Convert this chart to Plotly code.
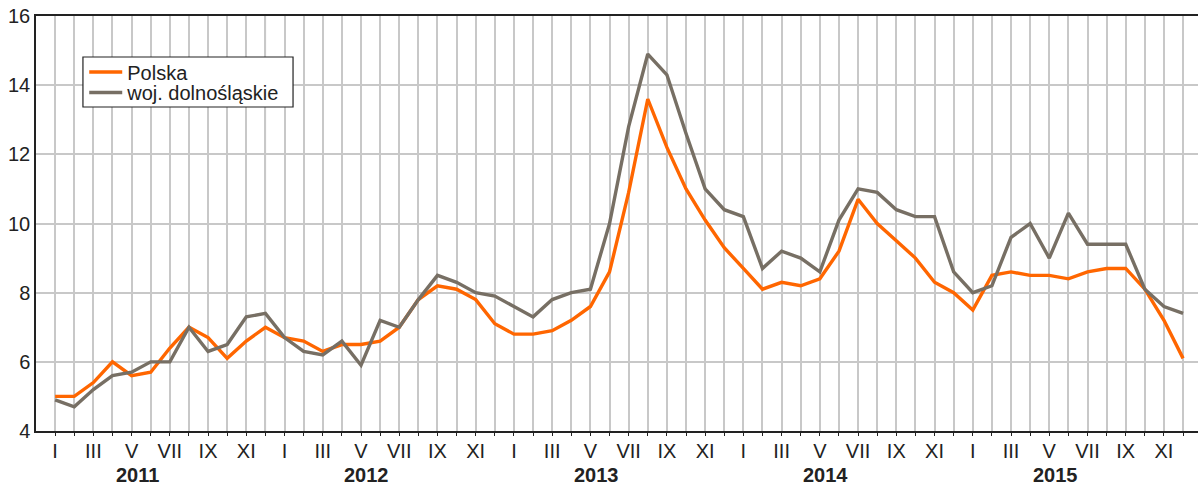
import plotly.graph_objects as go

years = ["2011", "2012", "2013", "2014", "2015"]
month_labels = ["I", "", "III", "", "V", "", "VII", "", "IX", "", "XI", ""]

polska = [
    5.0, 5.0, 5.4, 6.0, 5.6, 5.7, 6.4, 7.0, 6.7, 6.1, 6.6, 7.0,
    6.7, 6.6, 6.3, 6.5, 6.5, 6.6, 7.0, 7.8, 8.2, 8.1, 7.8, 7.1,
    6.8, 6.8, 6.9, 7.2, 7.6, 8.6, 10.9, 13.6, 12.2, 11.0, 10.1, 9.3,
    8.7, 8.1, 8.3, 8.2, 8.4, 9.2, 10.7, 10.0, 9.5, 9.0, 8.3, 8.0,
    7.5, 8.5, 8.6, 8.5, 8.5, 8.4, 8.6, 8.7, 8.7, 8.1, 7.2, 6.1,
]
dolnoslaskie = [
    4.9, 4.7, 5.2, 5.6, 5.7, 6.0, 6.0, 7.0, 6.3, 6.5, 7.3, 7.4,
    6.7, 6.3, 6.2, 6.6, 5.9, 7.2, 7.0, 7.8, 8.5, 8.3, 8.0, 7.9,
    7.6, 7.3, 7.8, 8.0, 8.1, 10.0, 12.8, 14.9, 14.3, 12.6, 11.0, 10.4,
    10.2, 8.7, 9.2, 9.0, 8.6, 10.1, 11.0, 10.9, 10.4, 10.2, 10.2, 8.6,
    8.0, 8.2, 9.6, 10.0, 9.0, 10.3, 9.4, 9.4, 9.4, 8.1, 7.6, 7.4,
]
series_names = ["Polska", "woj. dolnośląskie"]
series_colors = ["#ff6600", "#776f64"]

n = len(polska)
x = list(range(n))
ticktext = month_labels * len(years)

FONT = "Liberation Sans, Arial, sans-serif"
TXT = "#222222"

fig = go.Figure()
legend_ids = ["legend", "legend2"]
for name, vals, col, lg in zip(series_names, [polska, dolnoslaskie], series_colors, legend_ids):
    fig.add_trace(go.Scatter(x=x, y=vals, mode="lines", name=name, legend=lg,
                             line=dict(color=col, width=3.4)))

# dark vertical lines at year ends (December)
shapes = []
for k in range(len(years) - 1):
    xv = 12 * k + 11
    shapes.append(dict(type="line", xref="x", yref="paper", x0=xv, x1=xv, y0=0, y1=1,
                       line=dict(color=TXT, width=1.2), layer="below"))
# legend frame
shapes.append(dict(type="rect", xref="paper", yref="paper",
                   x0=0.0404, x1=0.2212, y0=0.7807, y1=0.9012,
                   fillcolor="white", line=dict(color=TXT, width=1.2), layer="above"))

annotations = []
for k, yr in enumerate(years):
    annotations.append(dict(x=12 * k + 4.3, y=-0.106, xref="x", yref="paper",
                            text="<b>" + yr + "</b>", showarrow=False,
                            font=dict(family=FONT, size=20, color=TXT),
                            xanchor="center", yanchor="middle"))

legend_common = dict(xanchor="left", yanchor="middle", bgcolor="rgba(0,0,0,0)",
                     borderwidth=0, font=dict(family=FONT, size=20, color=TXT),
                     itemwidth=33)

fig.update_layout(
    width=1198, height=488,
    margin=dict(l=36, r=0, t=16, b=57),
    plot_bgcolor="white", paper_bgcolor="white",
    font=dict(family=FONT, size=19, color=TXT),
    showlegend=True,
    legend=dict(x=0.0415, y=0.865, **legend_common),
    legend2=dict(x=0.0415, y=0.8157, **legend_common),
    shapes=shapes,
    annotations=annotations,
    xaxis=dict(range=[-1, 59.78], tickmode="array", tickvals=x, ticktext=ticktext,
               showgrid=True, gridcolor="#c8c8c8", gridwidth=1.5,
               showline=True, linecolor=TXT, linewidth=1.5, mirror=True,
               ticks="outside", ticklen=3, tickcolor=TXT, tickwidth=1,
               ticklabelstandoff=-2,
               tickfont=dict(family=FONT, size=20, color=TXT),
               zeroline=False, fixedrange=True),
    yaxis=dict(range=[4, 16], tickmode="array", tickvals=[4, 6, 8, 10, 12, 14, 16],
               showgrid=True, gridcolor="#c8c8c8", gridwidth=1.5,
               showline=True, linecolor=TXT, linewidth=1.5,
               ticks="", tickfont=dict(family=FONT, size=20, color=TXT),
               zeroline=False, fixedrange=True),
)

fig.write_html("out.html", config={"displayModeBar": False},
               post_script="document.body.style.margin='0';document.body.style.overflow='hidden';")
